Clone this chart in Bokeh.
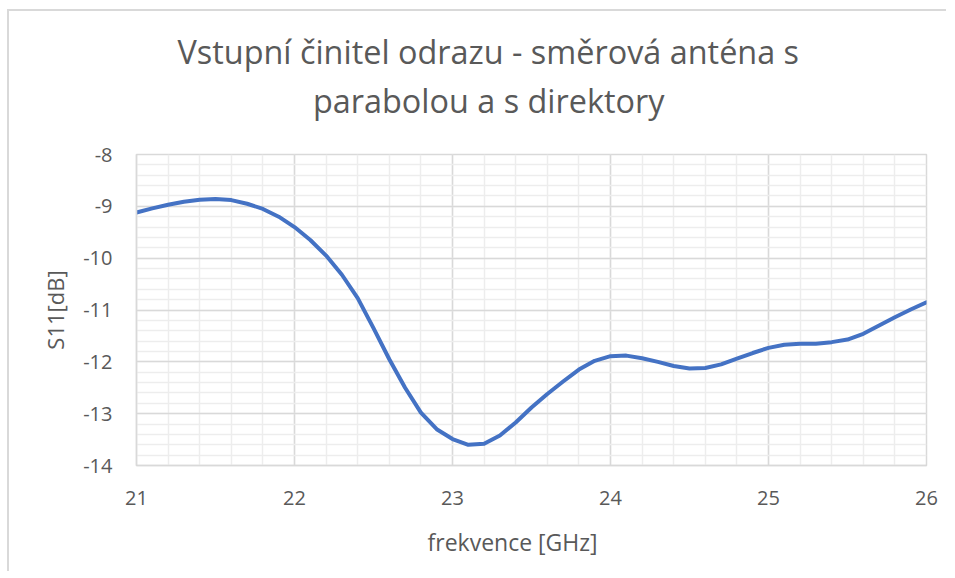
from bokeh.plotting import figure
from bokeh.models import Title, Range1d, FixedTicker
from bokeh.embed import file_html
from bokeh.resources import INLINE

# frequency [GHz]
freq = [21.0, 21.1, 21.2, 21.3, 21.4, 21.5, 21.6, 21.7, 21.8, 21.9,
        22.0, 22.1, 22.2, 22.3, 22.4, 22.5, 22.6, 22.7, 22.8, 22.9,
        23.0, 23.1, 23.2, 23.3, 23.4, 23.5, 23.6, 23.7, 23.8, 23.9,
        24.0, 24.1, 24.2, 24.3, 24.4, 24.5, 24.6, 24.7, 24.8, 24.9,
        25.0, 25.1, 25.2, 25.3, 25.4, 25.5, 25.6, 25.7, 25.8, 25.9, 26.0]
# S11 [dB]
s11 = [-9.12, -9.04, -8.97, -8.91, -8.875, -8.86, -8.88, -8.95, -9.05, -9.20,
       -9.40, -9.65, -9.95, -10.32, -10.77, -11.35, -11.95, -12.50, -12.98, -13.30,
       -13.49, -13.60, -13.58, -13.42, -13.17, -12.88, -12.62, -12.38, -12.15, -11.98,
       -11.89, -11.88, -11.93, -12.00, -12.08, -12.13, -12.12, -12.05, -11.94, -11.83,
       -11.73, -11.67, -11.65, -11.65, -11.62, -11.57, -11.46, -11.30, -11.14, -10.99, -10.85]

x_ticks = [21, 22, 23, 24, 25, 26]
y_ticks = [-14, -13, -12, -11, -10, -9, -8]
x_minor = [21 + 0.2 * i for i in range(26)]
y_minor = [-14 + 0.2 * i for i in range(31)]

title_line1 = "Vstupní činitel odrazu - směrová anténa s"
title_line2 = "parabolou a s direktory"
x_label = "frekvence [GHz]"
y_label = "S11[dB]"

FONT = "Open Sans"
TXT = "#595959"

p = figure(width=939, height=562, output_backend="svg", toolbar_location=None,
           x_range=Range1d(21, 26), y_range=Range1d(-14, -8),
           min_border_left=127, min_border_right=22, min_border_top=143, min_border_bottom=107)
p.title = None

spacer = Title(text=" ", text_font_size="1px", standoff=29)
t2 = Title(text=title_line2, align="left", offset=176.5, text_font=FONT, text_font_size="32.4px",
           text_color=TXT, text_font_style="normal", standoff=2, text_line_height=0.7)
t1 = Title(text=title_line1, align="left", offset=41, text_font=FONT, text_font_size="32.4px",
           text_color=TXT, text_font_style="normal", standoff=4, text_line_height=0.7)
p.add_layout(spacer, "above")
p.add_layout(t2, "above")
p.add_layout(t1, "above")

xt = Title(text=x_label, align="left", offset=291, text_font=FONT, text_font_size="23px",
           text_color=TXT, text_font_style="normal", standoff=32)
p.add_layout(xt, "below")

p.line(freq, s11, line_color="#4472C4", line_width=4, line_cap="round", line_join="round")

p.xaxis.ticker = FixedTicker(ticks=x_ticks, minor_ticks=x_minor)
p.yaxis.ticker = FixedTicker(ticks=y_ticks, minor_ticks=y_minor)
p.xaxis.major_label_overrides = {t: str(t) for t in x_ticks}
p.yaxis.major_label_overrides = {t: str(t) for t in y_ticks}

for ax in (p.xaxis, p.yaxis):
    ax.major_tick_line_color = None
    ax.minor_tick_line_color = None
    ax.major_tick_out = 0
    ax.major_tick_in = 0
    ax.axis_line_color = "#d9d9d9"
    ax.axis_line_width = 1.5
    ax.major_label_text_font = FONT
    ax.major_label_text_font_size = "20px"
    ax.major_label_text_color = TXT
    ax.axis_label_text_font = FONT
    ax.axis_label_text_font_size = "22px"
    ax.axis_label_text_color = TXT
    ax.axis_label_text_font_style = "normal"

p.yaxis.axis_label = y_label
p.xaxis.major_label_standoff = 21
p.yaxis.major_label_standoff = 20
p.yaxis.axis_label_standoff = 10

p.xgrid.grid_line_color = "#d9d9d9"
p.ygrid.grid_line_color = "#d9d9d9"
p.xgrid.grid_line_width = 1.5
p.ygrid.grid_line_width = 1.5
p.xgrid.minor_grid_line_color = "#ededed"
p.ygrid.minor_grid_line_color = "#ededed"
p.xgrid.minor_grid_line_width = 1.5
p.ygrid.minor_grid_line_width = 1.5

p.outline_line_color = "#d9d9d9"
p.outline_line_width = 1.5
p.background_fill_color = "white"
p.border_fill_color = "white"
p.styles = {"margin-left": "7px", "margin-top": "9px",
            "border-left": "2px solid #d9d9d9", "border-top": "2px solid #d9d9d9"}

open("out.html", "w").write(file_html(p, INLINE))
